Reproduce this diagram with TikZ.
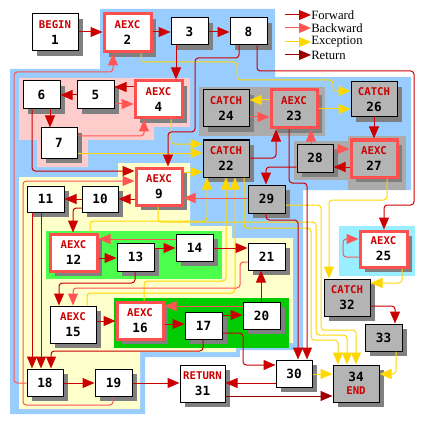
\documentclass[tikz,border=0pt]{standalone}
\usepackage{fontspec}
\setmainfont{Liberation Serif}
\newfontfamily\dvm{DejaVu Sans Mono}
\usetikzlibrary{arrows.meta,shadows}
\definecolor{fw}{HTML}{CC0000}
\definecolor{bw}{HTML}{FF5555}
\definecolor{ex}{HTML}{FFD800}
\definecolor{rt}{HTML}{990000}
\definecolor{pkb}{HTML}{FF5050}
\definecolor{blueR}{HTML}{99CCFF}
\definecolor{pinkR}{HTML}{FFCCCC}
\definecolor{ylwR}{HTML}{FFFFCC}
\definecolor{grayR}{HTML}{ABABAB}
\definecolor{nodeG}{HTML}{B4B4B4}
\definecolor{shG}{HTML}{808080}
\definecolor{cyanR}{HTML}{99EEFF}
\definecolor{grnA}{HTML}{4DFF4D}
\definecolor{grnB}{HTML}{00CC00}
\newcommand\lb[1]{{\color{fw}\fontsize{8}{9}\selectfont #1}}
\newcommand\mknode[7]{%
  \pgfmathsetmacro\ndw{(#4-#2)*0.75}%
  \pgfmathsetmacro\ndh{(#5-#3)*0.75}%
  \node[#6,minimum width=\ndw pt,minimum height=\ndh pt] (#1) at ({(#2+#4)/2},{(#3+#5)/2}) {#7};}
\tikzset{
  basebox/.style={rectangle,inner sep=0pt,align=center,
    font=\dvm\bfseries\fontsize{9.5}{11}\selectfont,
    drop shadow={shadow xshift=3.75pt,shadow yshift=-3.75pt,fill=shG,opacity=1}},
  plain/.style={basebox,draw=black,line width=0.75pt,fill=white},
  grayn/.style={basebox,draw=black,line width=0.75pt,fill=nodeG},
  aexc/.style={basebox,draw=pkb,line width=2.25pt,fill=white},
  aexcg/.style={basebox,draw=pkb,line width=2.25pt,fill=nodeG},
  edge/.style={line width=0.75pt,rounded corners=2.5pt,-{Triangle[length=9pt,width=7.5pt]}},
  fwd/.style={edge,draw=fw},
  bwd/.style={edge,draw=bw},
  exc/.style={edge,draw=ex},
  ret/.style={edge,draw=rt},
  legtext/.style={anchor=west,inner sep=0pt,font=\fontsize{9.5}{11}\selectfont}
}
\begin{document}
\begin{tikzpicture}[x=0.75pt,y=-0.75pt]
\useasboundingbox (0,0) rectangle (424,424);
% regions
\fill[blueR] (100,9) -- (275,9) -- (275,77) -- (411,77) -- (411,190) -- (303,190) -- (303,350) -- (240,350) -- (240,357) -- (145,357) -- (145,414) -- (10,414) -- (10,69) -- (100,69) -- cycle;
\fill[pinkR] (19,78) -- (190,78) -- (190,127) -- (154,127) -- (154,140) -- (88,140) -- (88,167) -- (37,167) -- (37,140) -- (19,140) -- cycle;
\fill[ylwR] (19,177) -- (118,177) -- (118,163) -- (190,163) -- (190,226) -- (232,226) -- (232,238) -- (293,238) -- (293,343) -- (236,343) -- (236,352) -- (140,352) -- (140,409) -- (19,409) -- cycle;
\fill[grayR] (199,87) rectangle (325,136);
\fill[grayR] (294,141) rectangle (350,180);
\fill[grayR] (348,136) rectangle (406,190);
\fill[cyanR] (339,226) rectangle (415,276);
\fill[grnA] (46,231) rectangle (222,279);
\fill[grnB] (114,298) rectangle (289,348);
% nodes
\mknode{n1}{32}{14}{78}{51}{plain}{\lb{BEGIN}\\[1pt]1}
\mknode{n2}{104}{14}{151}{52}{aexc}{\lb{AEXC}\\[1pt]2}
\mknode{n3}{171}{18}{208}{45}{plain}{3}
\mknode{n8}{230}{18}{267}{45}{plain}{8}
\mknode{n4}{135}{81}{182}{118}{aexc}{\lb{AEXC}\\[1pt]4}
\mknode{n5}{77}{81}{114}{109}{plain}{5}
\mknode{n6}{23}{81}{60}{109}{plain}{6}
\mknode{n7}{41}{128}{77}{158}{plain}{7}
\mknode{n24}{203}{90}{249}{127}{grayn}{\lb{CATCH}\\[1pt]24}
\mknode{n23}{271}{90}{317}{128}{aexcg}{\lb{AEXC}\\[1pt]23}
\mknode{n26}{351}{82}{397}{117}{grayn}{\lb{CATCH}\\[1pt]26}
\mknode{n27}{351}{140}{397}{177}{aexcg}{\lb{AEXC}\\[1pt]27}
\mknode{n28}{297}{144}{333}{172}{grayn}{28}
\mknode{n22}{203}{140}{249}{177}{grayn}{\lb{CATCH}\\[1pt]22}
\mknode{n9}{136}{168}{182}{205}{aexc}{\lb{AEXC}\\[1pt]9}
\mknode{n29}{248}{185}{285}{213}{grayn}{29}
\mknode{n10}{82}{186}{118}{212}{plain}{10}
\mknode{n11}{27}{186}{64}{212}{plain}{11}
\mknode{n12}{50}{234}{97}{271}{aexc}{\lb{AEXC}\\[1pt]12}
\mknode{n13}{117}{243}{154}{271}{plain}{13}
\mknode{n14}{176}{234}{213}{261}{plain}{14}
\mknode{n21}{248}{243}{285}{270}{plain}{21}
\mknode{n15}{50}{306}{96}{343}{plain}{\lb{AEXC}\\[1pt]15}
\mknode{n16}{117}{302}{163}{339}{aexc}{\lb{AEXC}\\[1pt]16}
\mknode{n17}{185}{312}{222}{339}{plain}{17}
\mknode{n20}{243}{302}{280}{329}{plain}{20}
\mknode{n18}{27}{369}{63}{396}{plain}{18}
\mknode{n19}{95}{369}{132}{396}{plain}{19}
\mknode{n31}{180}{365}{225}{402}{plain}{\lb{RETURN}\\[1pt]31}
\mknode{n30}{276}{360}{312}{387}{plain}{30}
\mknode{n34}{333}{365}{379}{402}{grayn}{34\\[-1pt]\lb{END}}
\mknode{n33}{365}{324}{402}{351}{grayn}{33}
\mknode{n32}{324}{279}{370}{316}{grayn}{\lb{CATCH}\\[1pt]32}
\mknode{n25}{360}{231}{407}{267}{aexc}{\lb{AEXC}\\[1pt]25}
% legend
\node[legtext] (lg1) at (311,15) {Forward};
\node[legtext] (lg2) at (311,28) {Backward};
\node[legtext] (lg3) at (311,42) {Exception};
\node[legtext] (lg4) at (311,55) {Return};
\coordinate (la1) at (285,15);
\coordinate (la2) at (285,28);
\coordinate (la3) at (285,42);
\coordinate (la4) at (285,55);
\draw[fwd] (la1) -- (lg1.west);
\draw[bwd] (la2) -- (lg2.west);
\draw[exc] (la3) -- (lg3.west);
\draw[ret] (la4) -- (lg4.west);
% exception edges
\draw[exc] (n2.south -| 141,0) -- (141,62) -- (237,62) -- (237,80) -- (333,80) -- (333,91) -- (n26.west |- 0,91);
\draw[exc] (n23.west |- 0,100) -- (n24.east |- 0,100);
\draw[exc] (n23.east |- 0,109) -- (n26.west |- 0,109);
\draw[exc] (n4.south -| 171,0) |- (n22.west |- 0,144);
\draw[exc] (n7.east |- 0,153) -- (n22.west |- 0,153);
\draw[exc] (n9.east |- 0,172) -- (n22.west |- 0,172);
\draw[exc] (n12.north -| 90,0) -- (90,221) -- (207,221) -- (n22.south -| 207,0);
\draw[exc] (n16.north -| 144,0) -- (144,281) -- (226,281) -- (n22.south -| 226,0);
\draw[exc] (n15.north -| 87,0) -- (87,293) -- (235,293) -- (n22.south -| 235,0);
\draw[exc] (n9.south -| 158,0) -- (158,222) -- (316,222) -- (316,335) -- (347,335) -- (n34.north -| 347,0);
\draw[exc] (n22.south -| 244,0) -- (244,228) -- (311,228) -- (311,340) -- (338,340) -- (n34.north -| 338,0);
\draw[exc] (n29.east |- 0,205) -- (321,205) -- (321,330) -- (356,330) -- (n34.north -| 356,0);
\draw[exc] (n27.south -| 387,0) -- (387,200) -- (329,200) -- (n32.north -| 329,0);
\draw[exc] (n25.south -| 402,0) |- (n32.east |- 0,283);
\draw[exc] (n33.south -| 396,0) |- (n34.east |- 0,374);
\draw[exc] (n30.east |- 0,374) -- (n34.west |- 0,374);
% backward edges
\draw[bwd] (n5.east |- 0,104) -- (n4.west |- 0,104);
\draw[bwd] (n7.east |- 0,136) -| (n4.south -| 144,0);
\draw[bwd] (n18.west |- 0,383) -- (14,383) -- (14,72) -- (113,72) -- (n2.south -| 113,0);
\draw[bwd] (n19.south -| 113,0) -- (113,405) -- (23,405) -- (23,181) -- (n9.west |- 0,181);
\draw[bwd] (n14.west |- 0,239) -- (n12.east |- 0,239);
\draw[bwd] (n21.west |- 0,262) -- (240,262) -- (240,288) -- (73,288) -- (n15.north -| 73,0);
\draw[bwd] (n20.west |- 0,306) -- (n16.east |- 0,306);
\draw[bwd] (n29.west |- 0,198) -- (n9.east |- 0,198);
\draw[bwd] (n24.east |- 0,117) -- (n23.west |- 0,117);
\draw[bwd] (n28.north -| 311,0) -- (n23.south -| 311,0);
\draw[bwd] (n28.east |- 0,149) -- (n27.west |- 0,149);
\draw[bwd] (n25.west |- 0,257) -- (343,257) -- (343,239) -- (n25.west |- 0,239);
% forward edges
\draw[fwd] (n1.east |- 0,32) -- (n2.west |- 0,32);
\draw[fwd] (n2.east |- 0,32) -- (n3.west |- 0,32);
\draw[fwd] (n3.east |- 0,32) -- (n8.west |- 0,32);
\draw[fwd] (n3.south -| 176,0) -- (n4.north -| 176,0);
\draw[fwd] (n4.west |- 0,87) -- (n5.east |- 0,87);
\draw[fwd] (n5.west |- 0,95) -- (n6.east |- 0,95);
\draw[fwd] (n6.south -| 50,0) -- (n7.north -| 50,0);
\draw[fwd] (n6.south -| 32,0) |- (n9.west |- 0,171);
\draw[fwd] (n8.south -| 239,0) -- (239,58) -- (195,58) -- (195,132) -- (168,132) -- (n9.north -| 168,0);
\draw[fwd] (n8.south -| 257,0) -- (257,71) -- (414,71) -- (414,205) -- (384,205) -- (n25.north -| 384,0);
\draw[fwd] (n9.west |- 0,199) -- (n10.east |- 0,199);
\draw[fwd] (n10.west |- 0,199) -- (n11.east |- 0,199);
\draw[fwd] (n10.west |- 0,208) -| (n12.north -| 73,0);
\draw[fwd] (n12.east |- 0,258) -- (n13.west |- 0,258);
\draw[fwd] (n13.east |- 0,248) -- (n14.west |- 0,248);
\draw[fwd] (n14.east |- 0,248) -- (n21.west |- 0,248);
\draw[fwd] (n13.south -| 135,0) -- (135,283) -- (59,283) -- (n15.north -| 59,0);
\draw[fwd] (n15.east |- 0,321) -- (n16.west |- 0,321);
\draw[fwd] (n16.east |- 0,324) -- (n17.west |- 0,324);
\draw[fwd] (n17.east |- 0,315) -- (n20.west |- 0,315);
\draw[fwd] (n20.north -| 261,0) -- (n21.south -| 261,0);
\draw[fwd] (n17.south -| 203,0) -- (203,351) -- (51,351) -- (n18.north -| 51,0);
\draw[fwd] (n11.south -| 32,0) -- (n18.north -| 32,0);
\draw[fwd] (n11.south -| 41,0) -- (n18.north -| 41,0);
\draw[fwd] (n18.east |- 0,383) -- (n19.west |- 0,383);
\draw[fwd] (n19.east |- 0,383) -- (n31.west |- 0,383);
\draw[fwd] (n30.west |- 0,383) -- (n31.east |- 0,383);
\draw[fwd] (n17.east |- 0,333) -- (243,333) -- (243,365) -- (n30.west |- 0,365);
\draw[fwd] (n29.south -| 266,0) -- (266,220) -- (298,220) -- (n30.north -| 298,0);
\draw[fwd] (n23.south -| 289,0) -- (289,183) -- (307,183) -- (n30.north -| 307,0);
\draw[fwd] (n22.east |- 0,158) -| (n23.south -| 276,0);
\draw[fwd] (n26.south -| 374,0) -- (n27.north -| 374,0);
\draw[fwd] (n27.west |- 0,167) -- (n28.east |- 0,167);
\draw[fwd] (n28.west |- 0,167) -| (n29.north -| 266,0);
\draw[fwd] (n32.east |- 0,306) -| (n33.north -| 395,0);
% return edge
\draw[ret] (n31.east |- 0,396) -- (n34.west |- 0,396);
\end{tikzpicture}
\end{document}
